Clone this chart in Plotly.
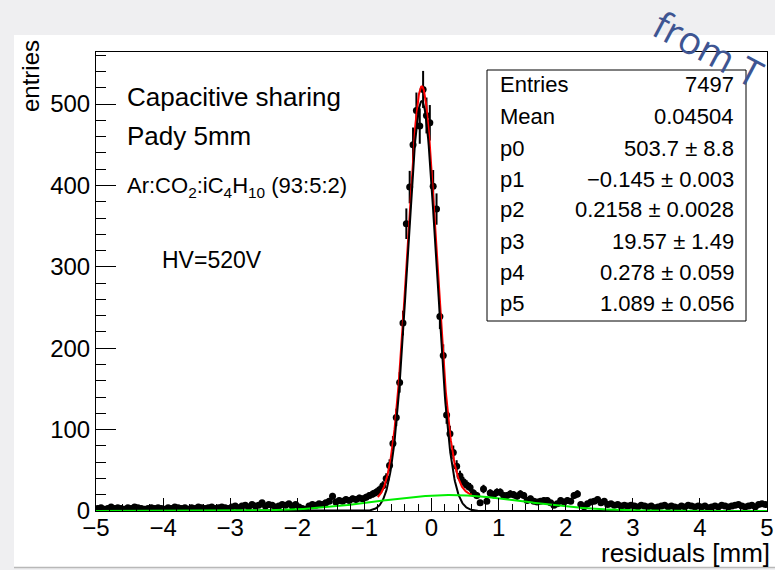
import numpy as np
import plotly.graph_objects as go

# ---------------- data ----------------
x_lo, x_hi, n_bins = -5.0, 5.0, 200
counts = [
    # -5 .. -4
    3, 4, 2, 3, 5, 3, 4, 3, 2, 4, 3, 5, 4, 3, 2, 3, 4, 3, 4, 3,
    # -4 .. -3
    2, 4, 3, 5, 4, 3, 4, 2, 4, 3, 5, 4, 3, 4, 5, 3, 4, 5, 4, 3,
    # -3 .. -2
    5, 6, 4, 6, 7, 5, 8, 6, 7, 10, 6, 8, 7, 5, 6, 8, 7, 9, 6, 8,
    # -2 .. -1
    5, 3, 2, 6, 8, 7, 9, 8, 10, 12, 18, 11, 13, 12, 14, 13, 15, 14, 16, 15,
    # -1 .. 0
    17, 19, 21, 23, 26, 31, 40, 56, 83, 115, 158, 231, 353, 398, 450, 492, 473, 518, 486, 477,
    # 0 .. 1
    399, 371, 239, 191, 118, 95, 72, 55, 43, 36, 32, 29, 22, 19, 10, 27, 12, 22, 20, 23,
    # 1 .. 2
    23, 19, 19, 21, 20, 18, 21, 19, 13, 15, 12, 11, 12, 13, 13, 10, 7, 9, 13, 11,
    # 2 .. 3
    13, 12, 19, 21, 8, 5, 9, 11, 12, 14, 10, 12, 8, 9, 7, 8, 6, 7, 6, 7,
    # 3 .. 4
    6, 5, 7, 6, 5, 6, 4, 5, 6, 7, 5, 6, 5, 4, 6, 5, 7, 6, 5, 6,
    # 4 .. 5
    5, 6, 4, 5, 6, 5, 7, 6, 5, 6, 7, 8, 6, 5, 6, 7, 5, 8, 9, 8,
]

# fit parameters (from the stats box)
p_names = ["p0", "p1", "p2", "p3", "p4", "p5"]
p_vals = [503.7, -0.145, 0.2158, 19.57, 0.278, 1.089]
p_errs = ["8.8", "0.003", "0.0028", "1.49", "0.059", "0.056"]
p_txt = ["503.7", "\u22120.145", "0.2158", "19.57", "0.278", "1.089"]
entries_txt = "7497"
mean_txt = "0.04504"
fit_range = [-0.8, 0.6]

# text
info_lines = ["Capacitive sharing", "Pady 5mm",
              "Ar:CO<sub>2</sub>:iC<sub>4</sub>H<sub>10</sub> (93:5:2)", "HV=520V"]
x_title = "residuals [mm]"
y_title = "entries"

# ---------------- derived ----------------
edges = np.linspace(x_lo, x_hi, n_bins + 1)
centers = 0.5 * (edges[:-1] + edges[1:])
y = np.array(counts, dtype=float)
err = np.sqrt(y)


def gaus(x, a, m, s):
    return a * np.exp(-0.5 * ((x - m) / s) ** 2)


xs = np.linspace(x_lo, x_hi, 1201)
g1 = gaus(xs, *p_vals[0:3])
g2 = gaus(xs, *p_vals[3:6])
xr = np.linspace(fit_range[0], fit_range[1], 400)
tot = gaus(xr, *p_vals[0:3]) + gaus(xr, *p_vals[3:6])

FONT = "Liberation Sans, Arial, Helvetica, sans-serif"

W, H = 775, 570
L, R, T, B = 96, 8, 52, 59
PW, PH = W - L - R, H - T - B


def px(xp):
    return (xp - L) / PW


def py(yp):
    return (H - B - yp) / PH


fig = go.Figure()
fig.add_trace(go.Scatter(
    x=centers, y=y, mode="markers",
    marker=dict(color="black", size=7),
    error_y=dict(type="data", array=err, color="black", thickness=2, width=0),
    showlegend=False, hoverinfo="skip"))
fig.add_trace(go.Scatter(x=xr, y=tot, mode="lines",
                         line=dict(color="#ff0000", width=2), showlegend=False))
fig.add_trace(go.Scatter(x=xs, y=g1, mode="lines",
                         line=dict(color="black", width=2), showlegend=False))
fig.add_trace(go.Scatter(x=xs, y=g2, mode="lines",
                         line=dict(color="#00ee00", width=2), showlegend=False))

shapes = [
    # slide white panel
    dict(type="rect", xref="paper", yref="paper", x0=px(14), x1=px(790),
         y0=py(567), y1=py(35), fillcolor="white", line=dict(width=0), layer="below"),
    dict(type="line", xref="paper", yref="paper", x0=px(14), x1=px(790),
         y0=py(567.5), y1=py(567.5), line=dict(color="#b8b8b8", width=1.5)),
    # stats box
    dict(type="rect", xref="paper", yref="paper", x0=px(487), x1=px(746),
         y0=py(321), y1=py(70), fillcolor="white", line=dict(color="black", width=1)),
]

ann = []
stat_rows = [("Entries", entries_txt), ("Mean", mean_txt)] + [
    (n, f"{v} \u00b1 {e}") for n, v, e in zip(p_names, p_txt, p_errs)]
row_y = [85, 116, 148, 179, 210, 241, 272, 303]
for (lab, val), yy in zip(stat_rows, row_y):
    ann.append(dict(xref="paper", yref="paper", x=px(498), y=py(yy), text=lab,
                    xanchor="left", yanchor="middle", showarrow=False,
                    font=dict(family=FONT, size=22, color="black")))
    ann.append(dict(xref="paper", yref="paper", x=px(736), y=py(yy), text=val,
                    xanchor="right", yanchor="middle", showarrow=False,
                    font=dict(family=FONT, size=22, color="black")))

info_pos = [(125, 97, 26), (125, 136, 26), (125, 187, 22), (160, 260, 23)]
for t, (xx, yy, fs) in zip(info_lines, info_pos):
    ann.append(dict(xref="paper", yref="paper", x=px(xx), y=py(yy), text=t,
                    xanchor="left", yanchor="middle", showarrow=False,
                    font=dict(family=FONT, size=fs, color="black")))

ann.append(dict(xref="paper", yref="paper", x=px(30), y=py(76), text=y_title,
                textangle=-90, xanchor="center", yanchor="middle", showarrow=False,
                font=dict(family=FONT, size=24, color="black")))
ann.append(dict(xref="paper", yref="paper", x=px(772), y=py(553), text=x_title,
                xanchor="right", yanchor="middle", showarrow=False,
                font=dict(family=FONT, size=26, color="black")))
ann.append(dict(xref="paper", yref="paper", x=px(708), y=py(48), text="from T",
                textangle=28, xanchor="center", yanchor="middle", showarrow=False,
                font=dict(family="Open Sans, sans-serif", size=38, color="#3e5592")))

fig.update_layout(
    width=W, height=H, margin=dict(l=L, r=R, t=T, b=B, pad=0, autoexpand=False),
    paper_bgcolor="#efeff1", plot_bgcolor="white",
    shapes=shapes, annotations=ann, showlegend=False,
    font=dict(family=FONT, color="black"),
)
fig.update_xaxes(range=[x_lo, x_hi], dtick=1, tick0=0, ticks="inside", ticklen=13,
                 tickwidth=1, tickcolor="black", showgrid=False, zeroline=False,
                 showline=True, linecolor="black", linewidth=1, mirror=True,
                 ticklabelstandoff=-5, automargin=False, ticklabeloverflow="allow",
                 tickfont=dict(family=FONT, size=24, color="black"),
                 minor=dict(dtick=0.2, ticks="inside", ticklen=7, tickcolor="black",
                            tickwidth=1, showgrid=False))
fig.update_yaxes(range=[0, 564], dtick=100, tick0=0, ticks="inside", ticklen=20,
                 tickwidth=1, tickcolor="black", showgrid=False, zeroline=False,
                 showline=True, linecolor="black", linewidth=1, mirror=True,
                 automargin=False, ticklabeloverflow="allow",
                 tickfont=dict(family=FONT, size=24, color="black"),
                 minor=dict(dtick=20, ticks="inside", ticklen=10, tickcolor="black",
                            tickwidth=1, showgrid=False))

fig.write_html("out.html")
